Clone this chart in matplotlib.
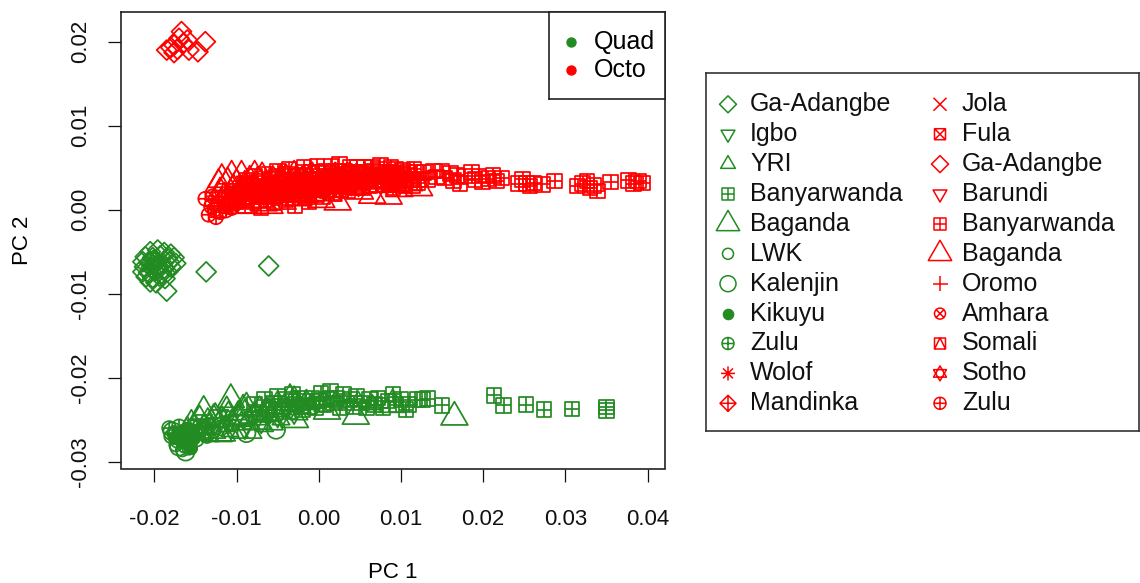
import matplotlib
matplotlib.use("Agg")
import matplotlib.pyplot as plt
from matplotlib.path import Path

plt.rcParams['font.family'] = ['Liberation Sans', 'DejaVu Sans']
plt.rcParams['axes.unicode_minus'] = False

GREEN = '#228B22'
RED = '#FF0000'

# ---- data (PC1, PC2) ----
# Quad (green)
quad_ga_adangbe = [(-0.0205, -0.0050), (-0.0196, -0.0048), (-0.0188, -0.0051), (-0.0180, -0.0053),
                   (-0.0211, -0.0056), (-0.0202, -0.0057), (-0.0193, -0.0055), (-0.0184, -0.0058),
                   (-0.0176, -0.0057), (-0.0214, -0.0062), (-0.0206, -0.0063), (-0.0198, -0.0061),
                   (-0.0190, -0.0064), (-0.0182, -0.0062), (-0.0174, -0.0064), (-0.0212, -0.0068),
                   (-0.0204, -0.0069), (-0.0196, -0.0067), (-0.0188, -0.0070), (-0.0180, -0.0068),
                   (-0.0214, -0.0074), (-0.0207, -0.0075), (-0.0199, -0.0073), (-0.0191, -0.0076),
                   (-0.0184, -0.0074), (-0.0210, -0.0080), (-0.0202, -0.0081), (-0.0194, -0.0079),
                   (-0.0187, -0.0082), (-0.0205, -0.0086), (-0.0198, -0.0087), (-0.0201, -0.0060),
                   (-0.0195, -0.0071), (-0.0185, -0.0097), (-0.0137, -0.0074), (-0.0061, -0.0067)]
quad_igbo = [(-0.0150, -0.0256), (-0.0140, -0.0250), (-0.0130, -0.0262), (-0.0120, -0.0244),
             (-0.0110, -0.0256), (-0.0100, -0.0250), (-0.0090, -0.0262), (-0.0080, -0.0246),
             (-0.0070, -0.0255), (-0.0060, -0.0240), (-0.0050, -0.0248), (-0.0040, -0.0236),
             (-0.0030, -0.0244), (-0.0020, -0.0232), (0.0000, -0.0228)]
quad_yri = [(-0.0160, -0.0258), (-0.0155, -0.0250), (-0.0150, -0.0262), (-0.0145, -0.0245),
            (-0.0142, -0.0268), (-0.0140, -0.0255), (-0.0135, -0.0248), (-0.0132, -0.0270),
            (-0.0130, -0.0260), (-0.0126, -0.0242), (-0.0124, -0.0266), (-0.0122, -0.0252),
            (-0.0118, -0.0246), (-0.0116, -0.0270), (-0.0114, -0.0258), (-0.0112, -0.0234),
            (-0.0110, -0.0240), (-0.0108, -0.0264), (-0.0106, -0.0250), (-0.0102, -0.0256),
            (-0.0098, -0.0244), (-0.0096, -0.0266), (-0.0094, -0.0252), (-0.0092, -0.0232),
            (-0.0090, -0.0238), (-0.0086, -0.0248), (-0.0082, -0.0256), (-0.0080, -0.0266),
            (-0.0078, -0.0240), (-0.0074, -0.0250), (-0.0072, -0.0234), (-0.0070, -0.0244),
            (-0.0066, -0.0258), (-0.0064, -0.0236), (-0.0058, -0.0246), (-0.0054, -0.0256),
            (-0.0050, -0.0240), (-0.0046, -0.0250), (-0.0042, -0.0232), (-0.0035, -0.0238),
            (-0.0030, -0.0222), (-0.0028, -0.0228), (-0.0024, -0.0244), (-0.0020, -0.0236),
            (-0.0015, -0.0226), (-0.0010, -0.0232), (0.0005, -0.0234), (0.0020, -0.0228),
            (0.0048, -0.0228), (0.0065, -0.0232)]
quad_banyarwanda = [(-0.0078, -0.0232), (-0.0072, -0.0244), (-0.0066, -0.0226), (-0.0060, -0.0238),
                    (-0.0055, -0.0230), (-0.0050, -0.0222), (-0.0045, -0.0234), (-0.0040, -0.0226),
                    (-0.0036, -0.0240), (-0.0032, -0.0220), (-0.0028, -0.0232), (-0.0024, -0.0225),
                    (-0.0020, -0.0238), (-0.0016, -0.0228), (-0.0012, -0.0234), (-0.0008, -0.0224),
                    (-0.0004, -0.0236), (0.0000, -0.0228), (0.0003, -0.0218), (0.0006, -0.0232),
                    (0.0010, -0.0226), (0.0014, -0.0216), (0.0018, -0.0230), (0.0022, -0.0224),
                    (0.0026, -0.0236), (0.0030, -0.0220), (0.0034, -0.0230), (0.0038, -0.0226),
                    (0.0042, -0.0234), (0.0046, -0.0222), (0.0052, -0.0230), (0.0058, -0.0236),
                    (0.0062, -0.0226), (0.0068, -0.0232), (0.0072, -0.0224), (0.0078, -0.0236),
                    (0.0084, -0.0228), (0.0090, -0.0220), (0.0094, -0.0232), (0.0100, -0.0226),
                    (0.0106, -0.0238), (0.0110, -0.0232), (0.0120, -0.0226), (0.0126, -0.0226),
                    (0.0132, -0.0225), (0.0150, -0.0233), (0.0213, -0.0221), (0.0225, -0.0233),
                    (0.0252, -0.0232), (0.0274, -0.0238), (0.0308, -0.0237), (0.0350, -0.0235),
                    (0.0350, -0.0239)]
quad_baganda = [(-0.0140, -0.0240), (-0.0128, -0.0250), (-0.0118, -0.0266), (-0.0107, -0.0226),
                (-0.0098, -0.0246), (-0.0088, -0.0236), (-0.0075, -0.0252), (-0.0062, -0.0242),
                (-0.0050, -0.0234), (-0.0035, -0.0226), (-0.0029, -0.0250), (0.0010, -0.0240),
                (0.0045, -0.0246), (0.0090, -0.0232), (0.0165, -0.0247)]
quad_lwk = [(-0.0180, -0.0270), (-0.0174, -0.0280), (-0.0168, -0.0266), (-0.0166, -0.0286),
            (-0.0160, -0.0272), (-0.0158, -0.0284), (-0.0154, -0.0264), (-0.0148, -0.0274),
            (-0.0142, -0.0262), (-0.0136, -0.0270), (-0.0128, -0.0264)]
quad_kalenjin = [(-0.0178, -0.0264), (-0.0170, -0.0282), (-0.0162, -0.0288), (-0.0157, -0.0270),
                 (-0.0140, -0.0262), (-0.0120, -0.0258), (-0.0088, -0.0266), (-0.0052, -0.0262)]
quad_kikuyu = [(-0.0176, -0.0272), (-0.0172, -0.0266), (-0.0168, -0.0276), (-0.0164, -0.0268),
               (-0.0160, -0.0279), (-0.0157, -0.0265), (-0.0152, -0.0272), (-0.0166, -0.0262),
               (-0.0155, -0.0284), (-0.0170, -0.0271), (-0.0162, -0.0274), (-0.0158, -0.0270)]
quad_zulu = [(-0.0182, -0.0260), (-0.0176, -0.0266), (-0.0170, -0.0258), (-0.0172, -0.0275),
             (-0.0165, -0.0270), (-0.0160, -0.0262), (-0.0163, -0.0281), (-0.0156, -0.0276),
             (-0.0150, -0.0266), (-0.0145, -0.0258), (-0.0138, -0.0266)]

# Octo (red)
octo_wolof = [(-0.0095, 0.0022), (-0.0075, 0.0016), (-0.0055, 0.0012), (-0.0035, 0.0018),
              (-0.0015, 0.0020), (0.0005, 0.0026), (0.0025, 0.0025), (0.0045, 0.0030)]
octo_mandinka = [(-0.0100, 0.0008), (-0.0080, 0.0032), (-0.0060, 0.0030), (-0.0040, 0.0024),
                 (-0.0020, 0.0040), (0.0000, 0.0034), (0.0020, 0.0045), (0.0040, 0.0028)]
octo_jola = [(-0.0100, 0.0015), (-0.0080, 0.0018), (-0.0060, 0.0025), (-0.0040, 0.0016),
             (-0.0020, 0.0030), (0.0000, 0.0020), (0.0020, 0.0032), (0.0040, 0.0024), (0.0060, 0.0038)]
octo_fula = [(-0.0105, 0.0020), (-0.0088, 0.0030), (-0.0070, 0.0015), (-0.0052, 0.0026),
             (-0.0035, 0.0030), (-0.0018, 0.0014), (0.0000, 0.0028), (0.0020, 0.0018), (0.0040, 0.0040)]
octo_ga_adangbe = [(-0.0185, 0.0190), (-0.0180, 0.0193), (-0.0176, 0.0187), (-0.0176, 0.0196),
                   (-0.0172, 0.0191), (-0.0170, 0.0204), (-0.0167, 0.0212), (-0.0165, 0.0198),
                   (-0.0160, 0.0202), (-0.0158, 0.0190), (-0.0147, 0.0188), (-0.0138, 0.0200)]
octo_barundi = [(-0.0090, 0.0034), (-0.0070, 0.0026), (-0.0050, 0.0025), (-0.0030, 0.0038),
                (-0.0010, 0.0035), (0.0010, 0.0042), (0.0030, 0.0040), (0.0050, 0.0046),
                (0.0070, 0.0040), (0.0100, 0.0038)]
octo_banyarwanda = [(-0.0100, 0.0012), (-0.0095, 0.0026), (-0.0090, 0.0005), (-0.0088, 0.0035),
                    (-0.0085, 0.0020), (-0.0080, 0.0010), (-0.0078, 0.0040), (-0.0075, 0.0028),
                    (-0.0072, 0.0018), (-0.0070, 0.0002), (-0.0066, 0.0042), (-0.0064, 0.0012),
                    (-0.0062, 0.0018), (-0.0060, 0.0036), (-0.0058, 0.0030), (-0.0056, 0.0022),
                    (-0.0054, 0.0008), (-0.0052, 0.0040), (-0.0050, 0.0046), (-0.0048, 0.0014),
                    (-0.0046, 0.0022), (-0.0043, 0.0035), (-0.0041, 0.0026), (-0.0040, 0.0012),
                    (-0.0038, 0.0042), (-0.0036, 0.0048), (-0.0034, 0.0018), (-0.0032, 0.0028),
                    (-0.0029, 0.0005), (-0.0027, 0.0034), (-0.0025, 0.0040), (-0.0023, 0.0024),
                    (-0.0021, 0.0018), (-0.0019, 0.0044), (-0.0018, 0.0050), (-0.0015, 0.0032),
                    (-0.0013, 0.0016), (-0.0012, 0.0010), (-0.0010, 0.0040), (-0.0008, 0.0045),
                    (-0.0006, 0.0030), (-0.0005, 0.0024), (-0.0003, 0.0018), (-0.0002, 0.0052),
                    (0.0000, 0.0044), (0.0002, 0.0036), (0.0004, 0.0026), (0.0005, 0.0015),
                    (0.0007, 0.0040), (0.0008, 0.0046), (0.0010, 0.0022), (0.0012, 0.0028),
                    (0.0013, 0.0036), (0.0015, 0.0052), (0.0017, 0.0030), (0.0018, 0.0020),
                    (0.0020, 0.0046), (0.0022, 0.0040), (0.0024, 0.0034), (0.0025, 0.0054),
                    (0.0027, 0.0024), (0.0028, 0.0030), (0.0030, 0.0042), (0.0032, 0.0046),
                    (0.0034, 0.0036), (0.0035, 0.0022), (0.0037, 0.0030), (0.0038, 0.0050),
                    (0.0040, 0.0044), (0.0042, 0.0036), (0.0044, 0.0030), (0.0045, 0.0026),
                    (0.0047, 0.0050), (0.0048, 0.0044), (0.0050, 0.0038), (0.0052, 0.0032),
                    (0.0054, 0.0026), (0.0055, 0.0051), (0.0057, 0.0045), (0.0058, 0.0040),
                    (0.0060, 0.0034), (0.0062, 0.0028), (0.0064, 0.0050), (0.0065, 0.0046),
                    (0.0067, 0.0040), (0.0068, 0.0035), (0.0070, 0.0030), (0.0072, 0.0042),
                    (0.0074, 0.0048), (0.0075, 0.0053), (0.0077, 0.0036), (0.0078, 0.0030),
                    (0.0080, 0.0040), (0.0082, 0.0045), (0.0084, 0.0032), (0.0085, 0.0038),
                    (0.0087, 0.0044), (0.0088, 0.0050), (0.0090, 0.0026), (0.0092, 0.0032),
                    (0.0094, 0.0048), (0.0095, 0.0043), (0.0097, 0.0030), (0.0098, 0.0037),
                    (0.0100, 0.0042), (0.0102, 0.0047), (0.0104, 0.0028), (0.0106, 0.0034),
                    (0.0108, 0.0045), (0.0110, 0.0041), (0.0112, 0.0036), (0.0114, 0.0029),
                    (0.0116, 0.0048), (0.0118, 0.0044), (0.0120, 0.0032), (0.0122, 0.0036),
                    (0.0128, 0.0044), (0.0133, 0.0036), (0.0139, 0.0046), (0.0143, 0.0039),
                    (0.0150, 0.0046), (0.0153, 0.0038), (0.0160, 0.0043), (0.0164, 0.0035),
                    (0.0168, 0.0041), (0.0172, 0.0031), (0.0178, 0.0040), (0.0186, 0.0044),
                    (0.0190, 0.0036), (0.0195, 0.0040), (0.0199, 0.0033), (0.0206, 0.0037),
                    (0.0212, 0.0041), (0.0216, 0.0034), (0.0222, 0.0038), (0.0243, 0.0031),
                    (0.0248, 0.0036), (0.0253, 0.0031), (0.0257, 0.0028), (0.0262, 0.0032),
                    (0.0272, 0.0030), (0.0287, 0.0034), (0.0315, 0.0028), (0.0321, 0.0031),
                    (0.0326, 0.0034), (0.0330, 0.0026), (0.0335, 0.0029), (0.0339, 0.0022),
                    (0.0355, 0.0033), (0.0377, 0.0035), (0.0383, 0.0031), (0.0389, 0.0034),
                    (0.0394, 0.0032)]
octo_baganda = [(-0.0122, 0.0030), (-0.0120, 0.0020), (-0.0118, 0.0036), (-0.0115, 0.0014),
                (-0.0111, 0.0032), (-0.0108, 0.0010), (-0.0106, 0.0040), (-0.0104, 0.0024),
                (-0.0100, 0.0030), (-0.0097, 0.0015), (-0.0094, 0.0040), (-0.0093, 0.0005),
                (-0.0090, 0.0028), (-0.0086, 0.0020), (-0.0084, 0.0034), (-0.0082, 0.0012),
                (-0.0078, 0.0040), (-0.0075, 0.0022), (-0.0071, 0.0030), (-0.0069, 0.0038),
                (-0.0067, 0.0008), (-0.0064, 0.0026), (-0.0062, 0.0016), (-0.0060, 0.0005),
                (-0.0056, 0.0034), (-0.0054, 0.0024), (-0.0052, 0.0018), (-0.0048, 0.0028),
                (-0.0046, 0.0036), (-0.0044, 0.0010), (-0.0040, 0.0036), (-0.0038, 0.0020),
                (-0.0036, 0.0022), (-0.0033, 0.0030), (-0.0030, 0.0040), (-0.0025, 0.0014),
                (-0.0022, 0.0026), (-0.0020, 0.0032), (-0.0014, 0.0024), (-0.0011, 0.0036),
                (-0.0008, 0.0038), (-0.0002, 0.0020), (0.0003, 0.0012), (0.0006, 0.0030),
                (0.0010, 0.0030), (0.0014, 0.0024), (0.0018, 0.0036), (0.0023, 0.0009),
                (0.0026, 0.0032), (0.0030, 0.0028), (0.0035, 0.0038), (0.0040, 0.0034),
                (0.0046, 0.0028), (0.0050, 0.0022), (0.0058, 0.0034), (0.0065, 0.0017),
                (0.0072, 0.0030), (0.0080, 0.0036), (0.0085, 0.0016), (0.0092, 0.0030),
                (0.0098, 0.0025), (0.0110, 0.0032), (0.0122, 0.0026)]
octo_oromo = [(-0.0080, 0.0025), (-0.0060, 0.0034), (-0.0040, 0.0030), (-0.0018, 0.0036),
              (0.0005, 0.0040), (0.0025, 0.0038), (0.0045, 0.0045), (0.0080, 0.0042)]
octo_amhara = [(-0.0065, 0.0020), (-0.0045, 0.0032), (-0.0025, 0.0025), (-0.0005, 0.0036),
               (0.0015, 0.0035), (0.0035, 0.0044), (0.0055, 0.0040), (0.0090, 0.0040)]
octo_somali = [(-0.0090, 0.0015), (-0.0068, 0.0028), (-0.0045, 0.0020), (-0.0025, 0.0034),
               (-0.0005, 0.0030), (0.0015, 0.0040), (0.0035, 0.0035), (0.0075, 0.0035)]
octo_sotho = [(-0.0118, 0.0016), (-0.0110, 0.0010), (-0.0098, 0.0022), (-0.0085, 0.0012),
              (-0.0072, 0.0024), (-0.0060, 0.0018), (-0.0045, 0.0016), (-0.0030, 0.0022),
              (-0.0010, 0.0014), (0.0010, 0.0025)]
octo_zulu = [(-0.0138, 0.0013), (-0.0134, -0.0006), (-0.0131, 0.0004), (-0.0129, 0.0016),
             (-0.0127, 0.0000), (-0.0125, -0.0009), (-0.0122, 0.0008), (-0.0120, -0.0003),
             (-0.0117, 0.0012), (-0.0115, 0.0004), (-0.0113, -0.0001), (-0.0110, 0.0006),
             (-0.0106, 0.0002)]

x_ticks = [-0.02, -0.01, 0.00, 0.01, 0.02, 0.03, 0.04]
y_ticks = [-0.03, -0.02, -0.01, 0.00, 0.01, 0.02]


# ---- R style point symbols ----
def make_marker(polys=(), segs=(), circle=False):
    verts, codes = [], []
    for p in polys:
        verts += list(p) + [p[0]]
        codes += [Path.MOVETO] + [Path.LINETO] * (len(p) - 1) + [Path.CLOSEPOLY]
    for a, b in segs:
        verts += [a, b]
        codes += [Path.MOVETO, Path.LINETO]
    if circle:
        if not verts:
            return Path.unit_circle()
        return Path.make_compound_path(Path.unit_circle(), Path(verts, codes))
    return Path(verts, codes)


SQ = [(-1, -1), (1, -1), (1, 1), (-1, 1)]
DIAM = [(0, 1), (1, 0), (0, -1), (-1, 0)]
TRI_UP = [(-0.866, -0.5), (0.866, -0.5), (0, 1)]
TRI_DN = [(-0.866, 0.5), (0.866, 0.5), (0, -1)]
PLUS = [((0, -1), (0, 1)), ((-1, 0), (1, 0))]
CROSS = [((-1, -1), (1, 1)), ((-1, 1), (1, -1))]
CROSS_C = [((-0.707, -0.707), (0.707, 0.707)), ((-0.707, 0.707), (0.707, -0.707))]

m_diamond = make_marker([DIAM])
m_tri_up = make_marker([TRI_UP])
m_tri_dn = make_marker([TRI_DN])
m_sq_plus = make_marker([SQ], PLUS)
m_circle = make_marker(circle=True)
m_circ_plus = make_marker([], PLUS, circle=True)
m_asterisk = make_marker([], PLUS + CROSS_C)
m_diam_plus = make_marker([DIAM], PLUS)
m_x = make_marker([], CROSS_C)
m_sq_x = make_marker([SQ], CROSS)
m_circ_x = make_marker([], CROSS_C, circle=True)
m_sq_tri = make_marker([SQ], [((-1, -1), (0, 1)), ((0, 1), (1, -1))])
m_star = make_marker([TRI_UP, TRI_DN])
m_plus = make_marker([], PLUS)

# label, points, colour, marker, size in plot (px), size in key (px), filled
left_col = [
    ('Ga-Adangbe', quad_ga_adangbe, GREEN, m_diamond, 20, 17, False),
    ('Igbo', quad_igbo, GREEN, m_tri_dn, 19, 16, False),
    ('YRI', quad_yri, GREEN, m_tri_up, 20, 17, False),
    ('Banyarwanda', quad_banyarwanda, GREEN, m_sq_plus, 14.5, 12.5, False),
    ('Baganda', quad_baganda, GREEN, m_tri_up, 31, 27, False),
    ('LWK', quad_lwk, GREEN, m_circle, 13, 11, False),
    ('Kalenjin', quad_kalenjin, GREEN, m_circle, 18, 16, False),
    ('Kikuyu', quad_kikuyu, GREEN, m_circle, 12, 10.5, True),
    ('Zulu', quad_zulu, GREEN, m_circ_plus, 14, 12, False),
    ('Wolof', octo_wolof, RED, m_asterisk, 16, 14, False),
    ('Mandinka', octo_mandinka, RED, m_diam_plus, 19, 16, False),
]
right_col = [
    ('Jola', octo_jola, RED, m_x, 15, 13, False),
    ('Fula', octo_fula, RED, m_sq_x, 13, 11, False),
    ('Ga-Adangbe', octo_ga_adangbe, RED, m_diamond, 20, 17, False),
    ('Barundi', octo_barundi, RED, m_tri_dn, 19, 16, False),
    ('Banyarwanda', octo_banyarwanda, RED, m_sq_plus, 14.5, 12.5, False),
    ('Baganda', octo_baganda, RED, m_tri_up, 31, 27, False),
    ('Oromo', octo_oromo, RED, m_plus, 17, 15, False),
    ('Amhara', octo_amhara, RED, m_circ_x, 13, 11, False),
    ('Somali', octo_somali, RED, m_sq_tri, 13, 11, False),
    ('Sotho', octo_sotho, RED, m_star, 17, 15, False),
    ('Zulu', octo_zulu, RED, m_circ_plus, 14, 12, False),
]

PX = 100 / 72.0


def draw(axis, xs, ys, col, mk, size, filled, lw=1.25):
    s = (size / PX) ** 2
    if filled:
        axis.scatter(xs, ys, marker=mk, s=s, facecolors=col, edgecolors=col, linewidths=0.8)
    else:
        axis.scatter(xs, ys, marker=mk, s=s, facecolors='none', edgecolors=col, linewidths=lw)


fig = plt.figure(figsize=(11.4, 5.83), dpi=100)
W, H = 1140.0, 583.0

# main panel, placed in pixels
L, R, T, B = 121, 664.6, 11.7, 468.5
ax = fig.add_axes([L / W, 1 - B / H, (R - L) / W, (B - T) / H])

# green groups first, then red
groups = [g for g in left_col + right_col if g[2] == GREEN] + [g for g in left_col + right_col if g[2] == RED]
for name, pts, col, mk, size, ksize, filled in groups:
    draw(ax, [p[0] for p in pts], [p[1] for p in pts], col, mk, size, filled)

ax.set_xlim(-0.02406, 0.04207)
ax.set_ylim(-0.03081, 0.02357)
ax.set_xticks(x_ticks)
ax.set_xticklabels(['%.2f' % v for v in x_ticks])
ax.set_yticks(y_ticks)
ax.set_yticklabels(['%.2f' % v for v in y_ticks], rotation=90, va='center')
ax.tick_params(direction='out', length=9.5, width=0.9, labelsize=16, colors='#111111')
ax.tick_params(axis='x', pad=20)
ax.tick_params(axis='y', pad=12)
for sp in ax.spines.values():
    sp.set_linewidth(1.2)
    sp.set_color('#222222')

fig.text((L + R) / 2 / W, 1 - 572 / H, 'PC 1', ha='center', va='center', fontsize=16)
fig.text(23 / W, 1 - (T + B) / 2 / H, 'PC 2', ha='center', va='center', rotation=90, fontsize=16)

# Quad / Octo key inside the panel
k1 = fig.add_axes([549 / W, 1 - 99 / H, (R - 549) / W, (99 - T) / H])
k1.set_xlim(549, R)
k1.set_ylim(99, T)
k1.set_xticks([])
k1.set_yticks([])
for sp in k1.spines.values():
    sp.set_linewidth(1.2)
    sp.set_color('#222222')
for yy, col, txt in [(41.7, GREEN, 'Quad'), (70.3, RED, 'Octo')]:
    k1.scatter([571], [yy], marker='o', s=(9 / PX) ** 2, color=col)
    k1.text(594, yy, txt, va='center', ha='left', fontsize=18)

# population key outside the panel
k2 = fig.add_axes([706 / W, 1 - 431 / H, (1138.5 - 706) / W, (431 - 72.5) / H])
k2.set_xlim(706, 1138.5)
k2.set_ylim(431, 72.5)
k2.set_xticks([])
k2.set_yticks([])
for sp in k2.spines.values():
    sp.set_linewidth(1.2)
    sp.set_color('#333333')
for cx, tx, col_items in [(728, 750, left_col), (940, 962, right_col)]:
    for i, (name, pts, col, mk, size, ksize, filled) in enumerate(col_items):
        yy = 104.3 + i * 29.9
        draw(k2, [cx], [yy], col, mk, ksize, filled, lw=1.1)
        k2.text(tx, yy, name, va='center', ha='left', fontsize=18, color='#111111')

fig.savefig('out.png', dpi=100)
